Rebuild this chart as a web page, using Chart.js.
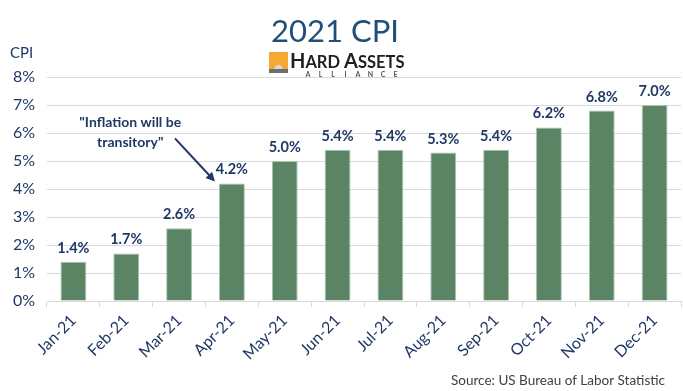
<!DOCTYPE html>
<html>
<head>
<meta charset="utf-8">
<script src="https://cdn.jsdelivr.net/npm/chart.js@4"></script>
<style>
  html, body { margin: 0; padding: 0; background: #fff; }
  #wrap { width: 683px; height: 391px; }
</style>
</head>
<body>
<div id="wrap"><canvas id="cpiChart" width="683" height="391"></canvas></div>
<script>
const months = ['Jan-21', 'Feb-21', 'Mar-21', 'Apr-21', 'May-21', 'Jun-21',
                'Jul-21', 'Aug-21', 'Sep-21', 'Oct-21', 'Nov-21', 'Dec-21'];
const cpiValues = [1.4, 1.7, 2.6, 4.2, 5.0, 5.4, 5.4, 5.3, 5.4, 6.2, 6.8, 7.0];
const yMin = 0;
const yMax = 8;
const yStep = 1;
const noteLines = ['"Inflation will be', 'transitory"'];
const noteMonth = 3; // Apr-21

const FONT = 'Lato, "Open Sans", sans-serif';
const NAVY = '#1F3864';
const BAR_GREEN = '#5B8465';

// draw a run of [text, size] pieces left to right
function drawPieces(ctx, pieces, x0, base) {
    let x = x0;
    pieces.forEach(([t, size]) => {
        ctx.font = 'bold ' + size + 'px ' + FONT;
        ctx.fillText(t, x, base);
        x += ctx.measureText(t).width;
    });
}

// title, labels, note, source and the logo
const overlay = {
    id: 'overlay',
    beforeDraw(chart) {
        const ctx = chart.ctx;
        ctx.save();
        ctx.fillStyle = '#fff';
        ctx.fillRect(0, 0, chart.width, chart.height);
        ctx.restore();
    },
    afterDatasetsDraw(chart) {
        const {ctx, scales: {x, y}} = chart;
        const bars = chart.getDatasetMeta(0).data;
        ctx.save();

        // value labels
        ctx.fillStyle = NAVY;
        ctx.font = 'bold 14.5px ' + FONT;
        ctx.textAlign = 'center';
        ctx.textBaseline = 'alphabetic';
        bars.forEach((bar, i) => {
            ctx.fillText(cpiValues[i].toFixed(1) + '%', bar.x, bar.y - 9);
        });

        // title
        ctx.fillStyle = '#1F4E79';
        ctx.font = '31px ' + FONT;
        ctx.fillText('2021 CPI', 335, 42);

        // axis title
        ctx.fillStyle = NAVY;
        ctx.font = '15px ' + FONT;
        ctx.textAlign = 'left';
        ctx.fillText('CPI', 10, 58);

        // note + arrow
        const apr = bars[noteMonth];
        const tipX = apr.x - apr.width / 2 - 4;
        const tipY = y.getPixelForValue(cpiValues[noteMonth]) - 2;
        const cx = x.getPixelForValue(1) + 4;
        ctx.font = 'bold 14px ' + FONT;
        ctx.textAlign = 'center';
        ctx.fillText(noteLines[0], cx, y.getPixelForValue(6.2));
        ctx.fillText(noteLines[1], cx, y.getPixelForValue(5.5));

        const sx = tipX - 40, sy = tipY - 43;
        const ang = Math.atan2(tipY - sy, tipX - sx);
        ctx.strokeStyle = NAVY;
        ctx.lineWidth = 2;
        ctx.beginPath();
        ctx.moveTo(sx, sy);
        ctx.lineTo(tipX - 6 * Math.cos(ang), tipY - 6 * Math.sin(ang));
        ctx.stroke();
        ctx.beginPath();
        ctx.moveTo(tipX, tipY);
        ctx.lineTo(tipX - 9 * Math.cos(ang) + 4.5 * Math.sin(ang), tipY - 9 * Math.sin(ang) - 4.5 * Math.cos(ang));
        ctx.lineTo(tipX - 9 * Math.cos(ang) - 4.5 * Math.sin(ang), tipY - 9 * Math.sin(ang) + 4.5 * Math.cos(ang));
        ctx.closePath();
        ctx.fill();

        // source
        ctx.fillStyle = '#404040';
        ctx.font = '13.5px ' + FONT;
        ctx.textAlign = 'right';
        ctx.fillText('Source: US Bureau of Labor Statistic', 665, 385);

        // logo
        ctx.fillStyle = '#F7A833';
        ctx.fillRect(269, 52, 19, 17);
        ctx.fillStyle = '#6D6E71';
        ctx.fillRect(269, 69, 19, 4);
        ctx.fillStyle = '#D9D9D9';
        ctx.beginPath();
        ctx.arc(278.5, 69, 4, Math.PI, 0);
        ctx.fill();
        ctx.fillStyle = '#231F20';
        ctx.textAlign = 'left';
        drawPieces(ctx, [['H', 20], ['ARD ', 16.5], ['A', 20], ['SSETS', 16.5]], 290, 68);
        ctx.fillStyle = '#555';
        ctx.font = 'bold 7px ' + FONT;
        ctx.textAlign = 'center';
        const word = 'ALLIANCE';
        for (let i = 0; i < word.length; i++) {
            ctx.fillText(word[i], 308 + i * 12.5, 77);
        }
        ctx.restore();
    }
};

const ctx = document.getElementById('cpiChart').getContext('2d');
new Chart(ctx, {
    type: 'bar',
    data: {
        labels: months,
        datasets: [{
            data: cpiValues,
            backgroundColor: BAR_GREEN,
            borderColor: '#A9C6AE',
            borderWidth: 1,
            barPercentage: 0.49,
            categoryPercentage: 1
        }]
    },
    options: {
        responsive: false,
        animation: false,
        layout: { padding: { top: 77, right: 2, left: 0, bottom: 0 } },
        plugins: {
            legend: { display: false },
            title: { display: false },
            tooltip: { enabled: false }
        },
        scales: {
            x: {
                afterFit: (scale) => { scale.height = 90; },
                grid: {
                    offset: true,
                    drawOnChartArea: false,
                    tickLength: 6,
                    color: '#D9D9D9'
                },
                border: { color: '#D9D9D9' },
                ticks: {
                    color: NAVY,
                    font: { family: FONT, size: 16 },
                    autoSkip: false,
                    maxRotation: 45,
                    minRotation: 45,
                    padding: 4
                }
            },
            y: {
                min: yMin,
                max: yMax,
                afterFit: (scale) => { scale.width = 47; },
                grid: { color: '#D9D9D9', drawTicks: false },
                border: { display: false },
                ticks: {
                    stepSize: yStep,
                    color: NAVY,
                    padding: 12,
                    font: { family: FONT, size: 16 },
                    callback: (v) => v + '%'
                }
            }
        }
    },
    plugins: [overlay]
});
</script>
</body>
</html>
